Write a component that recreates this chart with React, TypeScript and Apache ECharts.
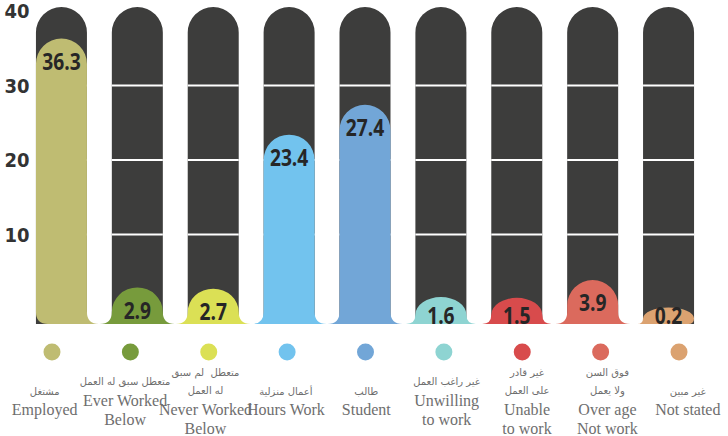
import React, { useEffect, useRef } from "react";
import * as echarts from "echarts";

const categoriesEn = [
  "Employed",
  "Ever Worked\nBelow",
  "Never Worked\nBelow",
  "Hours Work",
  "Student",
  "Unwilling\nto work",
  "Unable\nto work",
  "Over age\nNot work",
  "Not stated",
];
const categoriesAr = [
  "مشتغل",
  "متعطل سبق له العمل",
  "متعطل  لم سبق\nله العمل",
  "أعمال منزلية",
  "طالب",
  "غير راغب العمل",
  "غير قادر\nعلى العمل",
  "فوق السن\nولا يعمل",
  "غير مبين",
];
const values = [36.3, 2.9, 2.7, 23.4, 27.4, 1.6, 1.5, 3.9, 0.2];
const colors = [
  "#bfbc72",
  "#779b3c",
  "#dbe055",
  "#72c3ee",
  "#72a6d7",
  "#8ed4d2",
  "#d84b4c",
  "#db6a5d",
  "#dba270",
];
const yTickLabels = [10, 20, 30, 40];
const gridValues = [10, 20, 30];
const yMax = 40;

const CONDENSED = '"DejaVu Sans Condensed", "Liberation Sans", sans-serif';
const VALUE_FONT = '"Open Sans", "Liberation Sans", sans-serif';
const SERIF = '"Liberation Serif", "DejaVu Serif", serif';
const ARABIC = '"DejaVu Sans", sans-serif';

export default function App() {
  const ref = useRef<HTMLDivElement>(null);
  useEffect(() => {
    document.body.style.margin = "0";
    if (!ref.current) return;
    const chart = echarts.init(ref.current, undefined, { renderer: "svg" });

    const dotRich: Record<string, any> = {};
    colors.forEach((c, i) => {
      dotRich["d" + i] = {
        width: 17,
        height: 17,
        lineHeight: 17,
        borderRadius: 8.5,
        backgroundColor: c,
      };
    });

    const darkRender = (params: any, api: any) => {
      const i = api.value(0);
      const cx = api.coord([i, 0])[0];
      const base = api.coord([i, 0])[1];
      const top = api.coord([i, yMax])[1] - 4;
      const B = base + 15;
      const w = api.size([1, 0])[0] * 0.672;
      const r = w / 2;
      const x0 = cx - r;
      const x1 = cx + r;
      const d = `M${x0},${B} L${x0},${top + r} A${r},${r} 0 0 1 ${x1},${top + r} L${x1},${B} Z`;
      const children: any[] = [
        { type: "path", shape: { pathData: d }, style: { fill: "#3d3d3c" } },
      ];
      gridValues.forEach((g) => {
        const y = api.coord([i, g])[1];
        children.push({
          type: "rect",
          shape: { x: x0, y: y - 1, width: w, height: 2 },
          style: { fill: "#ffffff" },
        });
      });
      return { type: "group", children };
    };

    const barRender = (params: any, api: any) => {
      const i = api.value(0);
      const v = api.value(1);
      const p = api.coord([i, v]);
      const cx = p[0];
      const top = p[1];
      const base = api.coord([i, 0])[1];
      const B = base + 15;
      const w = api.size([1, 0])[0] * 0.672;
      const r = w / 2;
      const x0 = cx - r;
      const x1 = cx + r;
      const h = B - top;
      const f = Math.min(12, h * 0.35);
      const domeH = Math.min(r, h - f);
      const first = i === 0;
      const last = i === values.length - 1;
      const lx = first ? x0 + f : x0 - f;
      const rx = last ? x1 - f : x1 + f;
      const d =
        `M${lx},${B} Q${x0},${B} ${x0},${B - f} L${x0},${top + domeH} ` +
        `A${r},${domeH} 0 0 1 ${x1},${top + domeH} L${x1},${B - f} Q${x1},${B} ${rx},${B} Z`;
      const ly = Math.min(top + 22, B - 9);
      return {
        type: "group",
        children: [
          { type: "path", shape: { pathData: d }, style: { fill: colors[i] } },
          {
            type: "text",
            x: cx,
            y: ly,
            scaleX: 0.8,
            style: {
              text: v.toFixed(1),
              fill: "#262626",
              fontFamily: VALUE_FONT,
              fontWeight: "bold",
              fontSize: 24,
              align: "center",
              verticalAlign: "middle",
            },
          },
        ],
      };
    };

    const hiddenX = {
      axisLine: { show: false },
      axisTick: { show: false },
      splitLine: { show: false },
    };

    const option: any = {
      animation: false,
      grid: [
        { left: 23.5, right: 21.5, top: 11, bottom: 127 },
        { left: 12.8, right: 9.8, top: 11, bottom: 127 },
        { left: 4.5, right: -5.5, top: 11, bottom: 127 },
      ],
      xAxis: [
        {
          type: "category",
          gridIndex: 0,
          data: categoriesEn,
          position: "bottom",
          ...hiddenX,
          axisLabel: { show: false },
        },
        {
          type: "category",
          gridIndex: 1,
          data: categoriesEn,
          position: "bottom",
          ...hiddenX,
          axisLabel: {
            interval: 0,
            margin: 34.5,
            formatter: (_v: string, i: number) => `{d${i}| }`,
            rich: dotRich,
          },
        },
        {
          type: "category",
          gridIndex: 2,
          data: categoriesEn,
          position: "bottom",
          ...hiddenX,
          axisLabel: {
            interval: 0,
            margin: 96,
            verticalAlign: "middle",
            formatter: (_v: string, i: number) => {
              const ar = categoriesAr[i].split("\n").map((s) => `{ar|${s}}`);
              const en = categoriesEn[i].split("\n").map((s) => `{en|${s}}`);
              return [...ar, ...en].join("\n");
            },
            rich: {
              ar: { fontFamily: ARABIC, fontSize: 10, color: "#6e6e6e", lineHeight: 18 },
              en: { fontFamily: SERIF, fontSize: 16, color: "#6e6e6e", lineHeight: 19 },
            },
          },
        },
      ],
      yAxis: [
        {
          type: "value",
          gridIndex: 0,
          min: 0,
          max: yMax,
          interval: 10,
          offset: -6,
          axisLine: { show: false },
          axisTick: { show: false },
          splitLine: { show: false },
          axisLabel: {
            margin: 0,
            formatter: (v: number) => (yTickLabels.includes(v) ? String(v) : ""),
            fontFamily: CONDENSED,
            fontWeight: "bold",
            fontSize: 20,
            color: "#333333",
            padding: [16, 0, 0, 0],
          },
        },
        { type: "value", gridIndex: 1, min: 0, max: yMax, show: false },
        { type: "value", gridIndex: 2, min: 0, max: yMax, show: false },
      ],
      series: [
        {
          type: "custom",
          xAxisIndex: 0,
          yAxisIndex: 0,
          clip: false,
          z: 1,
          renderItem: darkRender,
          data: values.map((_, i) => [i, yMax]),
        },
        {
          type: "custom",
          xAxisIndex: 0,
          yAxisIndex: 0,
          clip: false,
          z: 3,
          renderItem: barRender,
          data: values.map((v, i) => [i, v]),
        },
      ],
    };
    chart.setOption(option);
    return () => chart.dispose();
  }, []);
  return <div ref={ref} style={{ width: 728, height: 436 }} />;
}
